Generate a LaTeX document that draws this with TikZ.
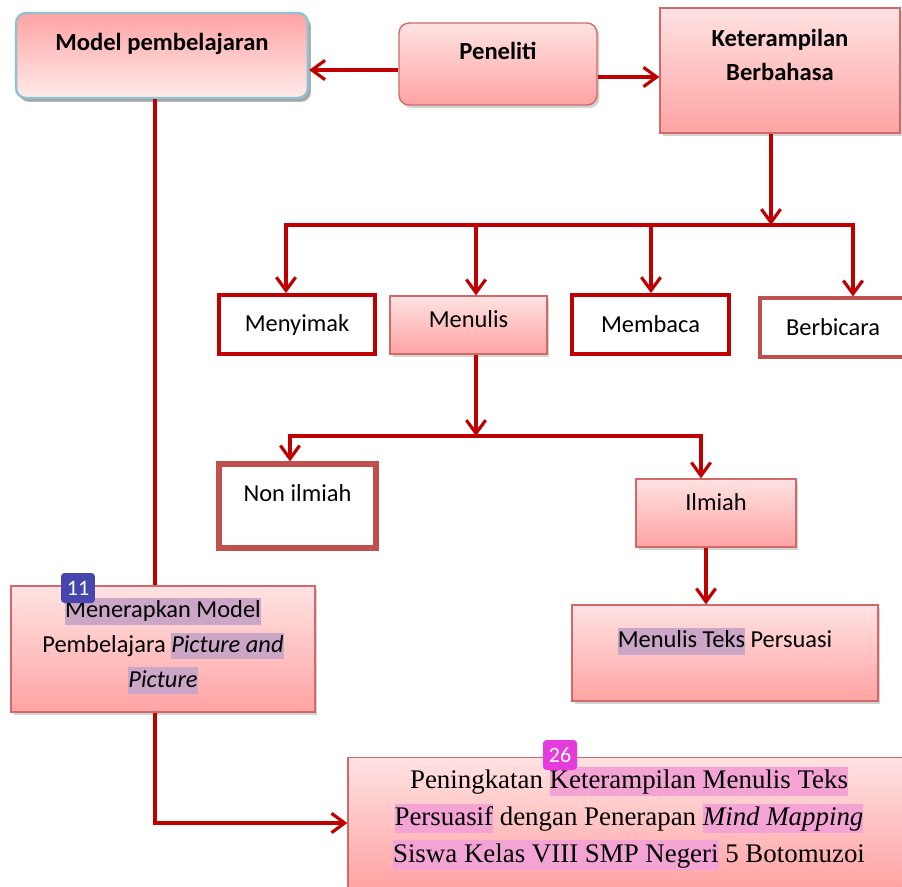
\documentclass[tikz,border=0pt]{standalone}
\usepackage{fontspec}
\setmainfont{Carlito}
\newfontfamily\serifteks{Liberation Serif}
\usepackage{xcolor}
\usetikzlibrary{arrows.meta,shadows,positioning}
\definecolor{garismerah}{HTML}{C00000}
\definecolor{pinkmuda}{HTML}{FFE2E2}
\definecolor{pinktua}{HTML}{FFA3A3}
\definecolor{tepimerah}{HTML}{D06A6A}
\definecolor{tepibiru}{HTML}{8EC3D3}
\definecolor{merahbata}{HTML}{C0504D}
\definecolor{ungu}{HTML}{CCA6C6}
\definecolor{merahjambu}{HTML}{F4A4D4}
\definecolor{lencanaungu}{HTML}{4646AE}
\definecolor{lencanapink}{HTML}{E43CDC}
\newcommand\sorotungu[1]{{\setlength{\fboxsep}{0pt}\colorbox{ungu}{\rule[-0.28em]{0pt}{1.1em}#1}}}
\newcommand\sorotpink[1]{{\setlength{\fboxsep}{0pt}\colorbox{merahjambu}{\rule[-0.28em]{0pt}{1.1em}#1}}}
\tikzset{
  kotak/.style={draw=tepimerah,line width=0.8pt,top color=pinkmuda,bottom color=pinktua,inner sep=0pt,
    drop shadow={shadow xshift=0.05cm,shadow yshift=-0.06cm,opacity=0.35}},
  kotakputih/.style={draw=garismerah,line width=2.2pt,fill=white,inner sep=0pt},
  tulisan/.style={font=\fontsize{13.9}{19.8}\selectfont},
  tebal/.style={font=\fontsize{14}{19.6}\selectfont\bfseries},
  geser/.style={text height=0.2cm,text depth=#1},
  garis/.style={garismerah,line width=1.8pt},
  panah/.style={garis,-{Straight Barb[length=7.5pt,width=11pt]}},
  lencana/.style={rounded corners=2pt,text=white,minimum width=0.68cm,minimum height=0.6cm,
    inner sep=0pt,font=\fontsize{12.5}{13}\selectfont}
}

\begin{document}
\begin{tikzpicture}[x=0.02cm,y=-0.02cm]
\useasboundingbox (0,0) rectangle (902,886);
% kotak atas
\node[kotak,draw=tepibiru,line width=1.4pt,rounded corners=0.2cm,top color=pinktua,bottom color=pinkmuda!70!white,
  drop shadow={shadow xshift=0.06cm,shadow yshift=-0.08cm,opacity=0.55},
  minimum width=5.84cm,minimum height=1.7cm,tebal,geser=0.39cm] (model) at (162,55.5) {Model pembelajaran};
\node[kotak,rounded corners=0.2cm,minimum width=3.96cm,minimum height=1.64cm,tebal,geser=0.37cm] (peneliti) at (498,64) {Peneliti};
\node[kotak,minimum width=4.8cm,minimum height=2.5cm,tebal,geser=0.5cm] (ket) at (780,70.5)
  {\begin{tabular}{@{}c@{}}Keterampilan\\Berbahasa\end{tabular}};
% empat keterampilan
\node[kotakputih,minimum width=3.12cm,minimum height=1.18cm,tulisan] (menyimak) at (297,324.5) {Menyimak};
\node[kotak,minimum width=3.14cm,minimum height=1.16cm,tulisan,geser=0.09cm] (menulis) at (468.5,325) {Menulis};
\node[kotakputih,minimum width=3.14cm,minimum height=1.18cm,tulisan] (membaca) at (650.5,324.5) {Membaca};
\node[kotakputih,draw=merahbata,line width=1.8pt,minimum width=2.92cm,minimum height=1.18cm,tulisan] (berbicara) at (833,327.5) {Berbicara};
% jenis tulisan
\node[kotakputih,draw=merahbata,line width=3pt,minimum width=3.14cm,minimum height=1.68cm,tulisan,geser=0.37cm] (nonilmiah) at (297.5,506) {Non ilmiah};
\node[kotak,minimum width=3.2cm,minimum height=1.36cm,tulisan,geser=0.29cm] (ilmiah) at (716,513) {Ilmiah};
\node[kotak,minimum width=6.12cm,minimum height=1.92cm,tulisan,geser=0.41cm] (teks) at (725,653)
  {\sorotungu{Menulis Teks} Persuasi};
\node[kotak,minimum width=6.08cm,minimum height=2.52cm,tulisan,geser=0.08cm] (terapkan) at (163,649)
  {\begin{tabular}{@{}c@{}}\sorotungu{Menerapkan Model}\\Pembelajara \sorotungu{\textit{Picture and}}\\\sorotungu{\textit{Picture}}\end{tabular}};
\node[kotak,minimum width=11.24cm,minimum height=2.62cm,font=\serifteks\fontsize{15.3}{21}\selectfont,geser=0.14cm] (hasil) at (629,823)
  {\begin{tabular}{@{}c@{}}Peningkatan \sorotpink{Keterampilan Menulis Teks}\\\sorotpink{Persuasif} dengan Penerapan \sorotpink{\textit{Mind Mapping}}\\\sorotpink{Siswa Kelas VIII SMP Negeri} 5 Botomuzoi\end{tabular}};
% panah atas
\coordinate (p1) at ([yshift=-0.12cm]peneliti.west);
\coordinate (p2) at ([yshift=-0.26cm]peneliti.east);
\draw[panah] (p1) -- (p1 -| model.east);
\draw[panah] (p2) -- (p2 -| ket.west);
% cabang keterampilan
\coordinate (bus1) at (771,225);
\draw[panah] (bus1 |- ket.south) -- (bus1);
\draw[panah] (bus1) -| (286,0 |- menyimak.north);
\draw[panah] (bus1) -| (853,0 |- berbicara.north);
\foreach \x/\b in {476/menulis,651/membaca}
  \draw[panah] (\x,225) -- (\x,225 |- \b.north);
% cabang menulis
\coordinate (bus2) at (476,436);
\draw[panah] (bus2 |- menulis.south) -- (bus2);
\draw[panah] (bus2) -| (290,0 |- nonilmiah.north);
\draw[panah] (bus2) -| (701,0 |- ilmiah.north);
\draw[panah] (706,0 |- ilmiah.south) -- (706,0 |- teks.north);
% jalur model
\draw[garis] (155,0 |- model.south) -- (155,0 |- terapkan.north);
\draw[panah] (155,0 |- terapkan.south) |- (hasil.west);
% lencana
\node[lencana,fill=lencanaungu] (b11) at (78,588) {11};
\node[lencana,fill=lencanapink] (b26) at (560,755) {26};
\end{tikzpicture}
\end{document}
